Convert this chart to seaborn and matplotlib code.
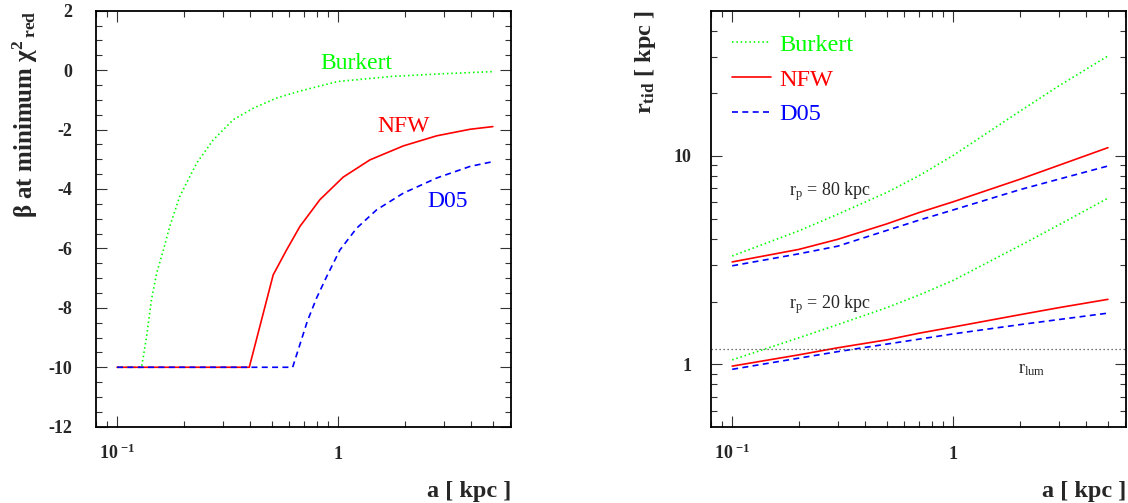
import numpy as np
import pandas as pd
import matplotlib
matplotlib.use('Agg')
import matplotlib.pyplot as plt
from matplotlib.lines import Line2D
from matplotlib.ticker import LogLocator, MultipleLocator, NullFormatter
import seaborn as sns

# ---------------- data ----------------
MODELS = ['Burkert', 'NFW', 'D05']
COLORS = ['#00ff00', '#ff0000', '#0000ff']

# left panel: beta at minimum reduced chi^2 vs a [kpc]
BURKERT_A = [0.1, 0.129, 0.136, 0.143, 0.151, 0.162, 0.173, 0.192, 0.229, 0.272,
             0.335, 0.413, 0.526, 0.659, 0.8, 1.0, 1.76, 3.0, 5.0]
BURKERT_BETA = [-10, -10, -8.96, -7.73, -6.83, -6.05, -5.26, -4.25, -3.13, -2.35,
                -1.67, -1.28, -0.94, -0.72, -0.56, -0.38, -0.21, -0.12, -0.05]
NFW_A = [0.1, 0.396, 0.508, 0.584, 0.671, 0.826, 1.053, 1.391, 1.969, 2.788, 3.944, 5.0]
NFW_BETA = [-10, -10, -6.89, -6.05, -5.26, -4.36, -3.60, -3.02, -2.55, -2.21, -1.99, -1.90]
D05_A = [0.1, 0.622, 0.724, 0.798, 0.886, 1.018, 1.211, 1.492, 1.969, 2.788, 3.944, 5.0]
D05_BETA = [-10, -10, -8.46, -7.67, -6.95, -6.05, -5.32, -4.70, -4.14, -3.63, -3.24, -3.08]

# right panel: tidal radius vs a [kpc], for two pericentres
RT_A = [0.1, 0.2, 0.3, 0.5, 0.7, 1.0, 2.0, 3.0, 5.0]
BURKERT_80 = [3.31, 4.37, 5.25, 6.68, 8.04, 10.07, 16.4, 21.7, 30.2]
NFW_80 = [3.10, 3.56, 3.98, 4.72, 5.35, 6.03, 7.73, 9.02, 10.96]
D05_80 = [2.97, 3.39, 3.69, 4.39, 4.92, 5.51, 6.89, 7.74, 8.95]
BURKERT_20 = [1.05, 1.34, 1.55, 1.87, 2.15, 2.53, 3.71, 4.67, 6.27]
NFW_20 = [0.98, 1.11, 1.20, 1.31, 1.41, 1.51, 1.73, 1.87, 2.05]
D05_20 = [0.946, 1.07, 1.15, 1.25, 1.32, 1.40, 1.55, 1.64, 1.76]
R_LUM = 1.185

BETA_TICKS = [2, 0, -2, -4, -6, -8, -10, -12]
BETA_TICKLABELS = ['2', '0', '-2', '-4', '-6', '-8', '-10', '-12']
A_TICKS = [0.1, 1]
A_TICKLABELS = [r'$\mathbf{10}^{\ \mathbf{-1}}$', '1']
R_TICKS = [1, 10]
R_TICKLABELS = ['1', '10']

# ---------------- frames ----------------
left = pd.concat([
    pd.DataFrame({'a': BURKERT_A, 'beta': BURKERT_BETA, 'model': 'Burkert'}),
    pd.DataFrame({'a': NFW_A, 'beta': NFW_BETA, 'model': 'NFW'}),
    pd.DataFrame({'a': D05_A, 'beta': D05_BETA, 'model': 'D05'}),
], ignore_index=True)

right = pd.concat([
    pd.DataFrame({'a': RT_A, 'rtid': BURKERT_80, 'model': 'Burkert', 'rp': 80}),
    pd.DataFrame({'a': RT_A, 'rtid': NFW_80, 'model': 'NFW', 'rp': 80}),
    pd.DataFrame({'a': RT_A, 'rtid': D05_80, 'model': 'D05', 'rp': 80}),
    pd.DataFrame({'a': RT_A, 'rtid': BURKERT_20, 'model': 'Burkert', 'rp': 20}),
    pd.DataFrame({'a': RT_A, 'rtid': NFW_20, 'model': 'NFW', 'rp': 20}),
    pd.DataFrame({'a': RT_A, 'rtid': D05_20, 'model': 'D05', 'rp': 20}),
], ignore_index=True)

# ---------------- style ----------------
sns.set_style('ticks')
plt.rcParams['font.family'] = ['Liberation Serif', 'DejaVu Serif']
plt.rcParams['mathtext.fontset'] = 'custom'
plt.rcParams['mathtext.rm'] = 'Liberation Serif'
plt.rcParams['mathtext.it'] = 'Liberation Serif:italic'
plt.rcParams['mathtext.bf'] = 'Liberation Serif:bold'
plt.rcParams['axes.unicode_minus'] = False

palette = dict(zip(MODELS, COLORS))
dash_map = {'Burkert': (0.9, 1.7), 'NFW': '', 'D05': (3.6, 2.6)}
LW = 1.2

fig = plt.figure(figsize=(11.28, 5.03), dpi=100)
ax1 = fig.add_axes([0.0848, 0.1517, 0.3682, 0.8270])
ax2 = fig.add_axes([0.6301, 0.1517, 0.3682, 0.8270])

sns.lineplot(data=left, x='a', y='beta', hue='model', style='model',
             hue_order=MODELS, style_order=MODELS, palette=palette, dashes=dash_map,
             estimator=None, sort=False, legend=False, lw=LW, ax=ax1)
sns.lineplot(data=right, x='a', y='rtid', hue='model', style='model', units='rp',
             hue_order=MODELS, style_order=MODELS, palette=palette, dashes=dash_map,
             estimator=None, sort=False, legend=False, lw=LW, ax=ax2)
ax2.axhline(R_LUM, color='#444444', lw=0.9, linestyle=(0, (1, 2.2)))

for ax in (ax1, ax2):
    ax.set_xscale('log')
    ax.set_xlim(0.08, 6.04)
    for sp in ax.spines.values():
        sp.set_linewidth(1.3)
        sp.set_color('black')
    ax.tick_params(which='both', direction='in', top=True, right=True,
                   color='#333333', width=0.8)
    ax.tick_params(which='major', length=8)
    ax.tick_params(which='minor', length=4)
    ax.xaxis.set_minor_locator(LogLocator(base=10, subs=np.arange(2, 10), numticks=20))
    ax.xaxis.set_minor_formatter(NullFormatter())
    ax.set_xticks(A_TICKS, labels=A_TICKLABELS)
    ax.tick_params(axis='x', which='major', pad=23.5, labelsize=13)
    for lab in ax.get_xticklabels():
        lab.set_fontweight('bold')
        lab.set_va('baseline')
    ax.set_xlabel('a [ kpc ]', fontsize=17.5, fontweight='bold', ha='right', va='baseline')
    ax.xaxis.set_label_coords(1.0, -0.1697)

# left panel y
ax1.set_ylim(-12, 2)
ax1.set_yticks(BETA_TICKS, labels=BETA_TICKLABELS)
ax1.yaxis.set_minor_locator(MultipleLocator(0.5))
ax1.tick_params(axis='y', which='major', pad=17, labelsize=13)
for lab in ax1.get_yticklabels():
    lab.set_fontweight('bold')
ax1.set_ylabel('β at minimum χ$^{\\mathbf{2}}{}_{\\,\\mathbf{red}}$', fontsize=18,
               fontweight='bold', ha='right', va='baseline')
ax1.yaxis.set_label_coords(-0.150, 1.0)

ax1.text(0.826, 0.03, 'Burkert', color=COLORS[0], fontsize=17, va='baseline')
ax1.text(1.51, -2.08, 'NFW', color=COLORS[1], fontsize=17, va='baseline')
ax1.text(2.53, -4.59, 'D05', color=COLORS[2], fontsize=17, va='baseline')

# right panel y
ax2.set_yscale('log')
ax2.set_ylim(0.5017, 49.8)
ax2.yaxis.set_minor_locator(LogLocator(base=10, subs=np.arange(2, 10), numticks=20))
ax2.yaxis.set_minor_formatter(NullFormatter())
ax2.set_yticks(R_TICKS, labels=R_TICKLABELS)
ax2.tick_params(axis='y', which='major', pad=14, labelsize=13)
for lab in ax2.get_yticklabels():
    lab.set_fontweight('bold')
ax2.set_ylabel('r$_{\\mathbf{tid}}$ [ kpc ]', fontsize=17.5, fontweight='bold',
               ha='right', va='baseline')
ax2.yaxis.set_label_coords(-0.145, 1.0)

ax2.text(0.18, 6.5, 'r$_{\\mathrm{p}}$ = 80 kpc', fontsize=13, va='baseline')
ax2.text(0.18, 1.86, 'r$_{\\mathrm{p}}$ = 20 kpc', fontsize=13, va='baseline')
ax2.text(1.97, 0.91, 'r$_{\\mathrm{lum}}$', fontsize=13, va='baseline')

handles = []
for m, c in zip(MODELS, COLORS):
    d = dash_map[m]
    ls = '-' if d == '' else (0, d)
    handles.append(Line2D([], [], color=c, lw=LW, linestyle=ls))
ax2.legend(handles, MODELS, loc='upper left', bbox_to_anchor=(0.0506, 0.945),
           frameon=False, borderpad=0, borderaxespad=0, handlelength=1.6,
           handletextpad=0.35, labelspacing=0.53, labelcolor='linecolor',
           prop={'family': 'Liberation Serif', 'size': 17.5})

fig.savefig('out.png', dpi=100)
